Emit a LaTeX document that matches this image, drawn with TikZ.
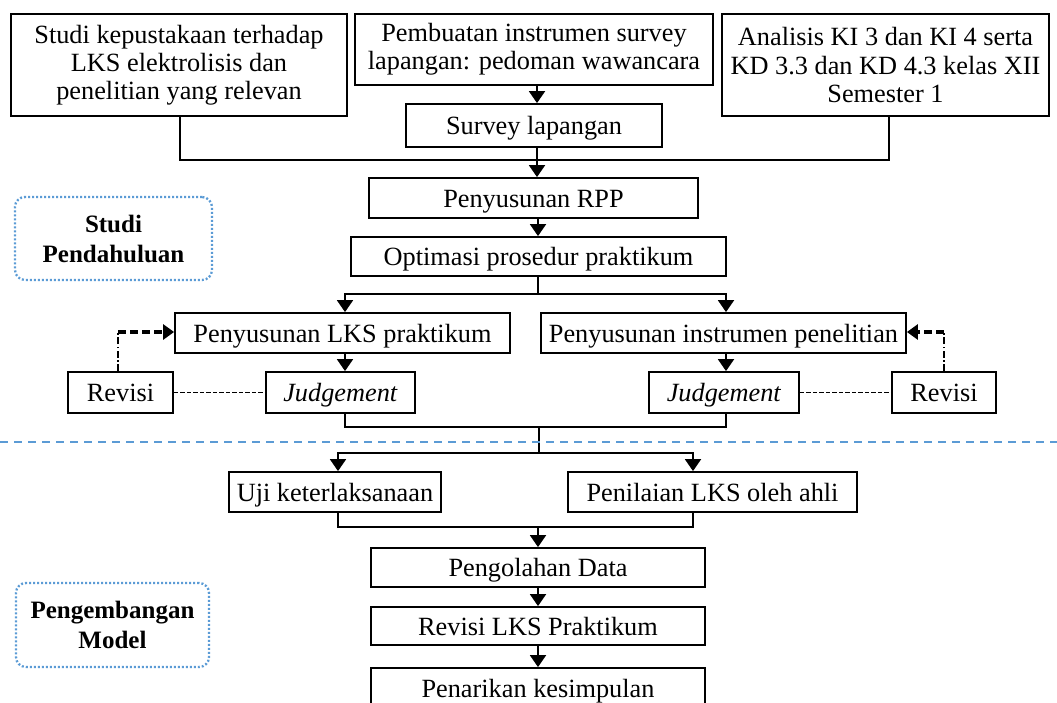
\documentclass[tikz,border=0pt]{standalone}
\usepackage{fontspec}
\setmainfont{Liberation Serif}
\usetikzlibrary{arrows.meta}
\definecolor{sepblue}{RGB}{91,155,213}
\begin{document}
\begin{tikzpicture}[x=1pt,y=-1pt,
  box/.style={draw,line width=1.8pt,rectangle,inner sep=0pt,align=center,
    font=\fontsize{26.3}{28}\selectfont},
  one/.style={box,text height=18pt,text depth=0pt},
  lbl/.style={draw=sepblue,line width=2.3pt,dash pattern=on 2pt off 2pt,
    rounded corners=10pt,inner sep=0pt,align=center,
    font=\fontsize{25}{30}\selectfont\bfseries},
  conn/.style={line width=1.9pt},
  arr/.style={conn,-{Triangle[width=16pt,length=12pt]}},
  thindash/.style={line width=1.4pt,dash pattern=on 4.5pt off 2pt},
  dashdot/.style={line width=1.4pt,dash pattern=on 7pt off 2.5pt on 1.5pt off 2.5pt},
  thickdash/.style={line width=3.6pt,dash pattern=on 8pt off 4pt,
    -{Triangle[width=15pt,length=11pt]}},
  sep/.style={draw=sepblue,line width=2pt,dash pattern=on 8pt off 6pt}
]
\useasboundingbox (0,0) rectangle (1057,702);

% top row
\node[box,minimum width=336pt,minimum height=102pt] (s1) at (179,65)
  {Studi kepustakaan terhadap\\LKS elektrolisis dan\\penelitian yang relevan};
\node[box,minimum width=358pt,minimum height=71pt] (s2) at (534,49.5)
  {Pembuatan instrumen survey\\lapangan: pedoman wawancara};
\node[box,minimum width=327pt,minimum height=102pt] (s3) at (885.5,65)
  {Analisis KI 3 dan KI 4 serta\\KD 3.3 dan KD 4.3 kelas XII\\Semester 1};
\node[one,minimum width=256pt,minimum height=43pt] (survey) at (534,125.5) {Survey lapangan};
\node[one,minimum width=329pt,minimum height=40pt] (rpp) at (533.5,198) {Penyusunan RPP};
\node[one,minimum width=375pt,minimum height=39pt] (opt) at (538.5,256.5) {Optimasi prosedur praktikum};

% middle
\node[one,minimum width=335pt,minimum height=40pt] (lks) at (342.5,333) {Penyusunan LKS praktikum};
\node[one,minimum width=365pt,minimum height=40pt] (ins) at (723.5,333) {Penyusunan instrumen penelitian};
\node[one,minimum width=149pt,minimum height=41pt] (jl) at (340.5,392.5) {\textit{Judgement}};
\node[one,minimum width=105pt,minimum height=41pt] (rl) at (120.5,392.5) {Revisi};
\node[one,minimum width=150pt,minimum height=41pt] (jr) at (724,392.5) {\textit{Judgement}};
\node[one,minimum width=104pt,minimum height=41pt] (rr) at (944,392.5) {Revisi};

% bottom
\node[one,minimum width=212pt,minimum height=40pt] (uji) at (335,492) {Uji keterlaksanaan};
\node[one,minimum width=289pt,minimum height=40pt] (pen) at (712.5,492) {Penilaian LKS oleh ahli};
\node[one,minimum width=334pt,minimum height=39pt] (olah) at (538,567.5) {Pengolahan Data};
\node[one,minimum width=334pt,minimum height=38pt] (rev) at (538,626) {Revisi LKS Praktikum};
\node[one,minimum width=334pt,minimum height=40pt] (tarik) at (538,688) {Penarikan kesimpulan};

% side labels
\node[lbl,minimum width=197pt,minimum height=83pt] (lab1) at (113.5,238.5) {Studi\\Pendahuluan};
\node[lbl,minimum width=193pt,minimum height=84pt] (lab2) at (112.5,625) {Pengembangan\\Model};

% coordinates
\coordinate (jL) at (180,160);
\coordinate (jR) at (889,160);
\coordinate (ax) at (537,0);
\coordinate (b1) at (538,294);
\coordinate (cl) at (345,0);
\coordinate (cr) at (726,0);
\coordinate (b2) at (539,427);
\coordinate (b3) at (539,453);
\coordinate (ul) at (338,0);
\coordinate (ur) at (693,0);
\coordinate (b4) at (538,527);
\coordinate (fl) at (118,332);
\coordinate (fr) at (944,332);
\coordinate (sepL) at (0,442);
\coordinate (sepR) at (1057,442);

% connectors top
\draw[conn] (s1.south -| jL) -- (jL) -- (jR) -- (s3.south -| jR);
\draw[arr] (s2.south -| ax) -- (survey.north -| ax);
\draw[arr] (survey.south -| ax) -- (rpp.north -| ax);
\draw[arr] (rpp.south -| b1) -- (opt.north -| b1);
\draw[conn] (opt.south -| b1) -- (b1);
\draw[arr] (b1) -| (lks.north -| cl);
\draw[arr] (b1) -| (ins.north -| cr);
\draw[arr] (lks.south -| cl) -- (jl.north -| cl);
\draw[arr] (ins.south -| cr) -- (jr.north -| cr);

% revisi loops
\draw[thindash] (rl.east) -- (jl.west);
\draw[thindash] (jr.east) -- (rr.west);
\draw[dashdot] (rl.north -| fl) -- (fl);
\draw[thickdash] (fl) -- (lks.west |- fl);
\draw[dashdot] (rr.north -| fr) -- (fr);
\draw[thickdash] (fr) -- (ins.east |- fr);

% merge to bottom
\draw[conn] (jl.south -| cl) |- (b2);
\draw[conn] (jr.south -| cr) |- (b2);
\draw[conn] (b2) -- (b3);
\draw[arr] (b3) -| (uji.north -| ul);
\draw[arr] (b3) -| (pen.north -| ur);
\draw[conn] (uji.south -| ul) |- (b4);
\draw[conn] (pen.south -| ur) |- (b4);
\draw[arr] (b4) -- (olah.north -| b4);
\draw[arr] (olah.south -| b4) -- (rev.north -| b4);
\draw[arr] (rev.south -| b4) -- (tarik.north -| b4);

% separator
\draw[sep] (sepL) -- (sepR);
\end{tikzpicture}
\end{document}
